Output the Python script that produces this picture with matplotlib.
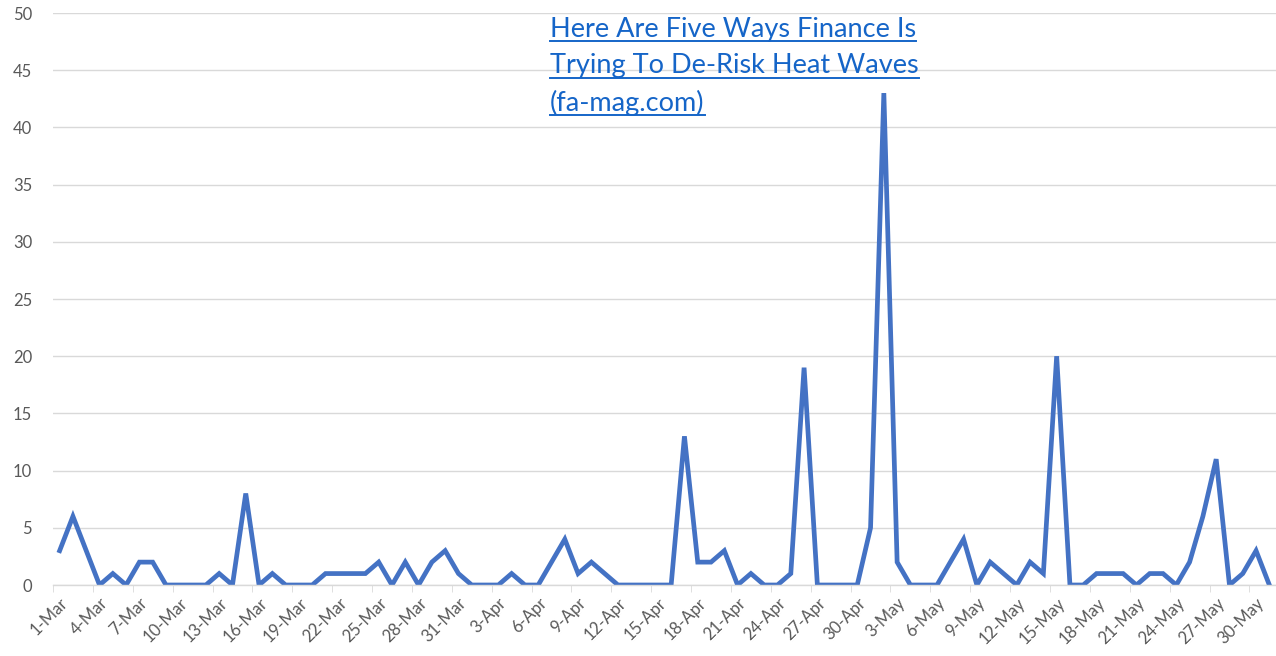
import numpy as np
import pandas as pd
import matplotlib
matplotlib.use("Agg")
import matplotlib.pyplot as plt
from matplotlib.ticker import MultipleLocator, FixedLocator

# daily counts, 1-Mar .. 31-May
dates = pd.date_range("2023-03-01", "2023-05-31", freq="D")
counts = [3, 6, 3, 0, 1, 0, 2, 2, 0, 0, 0, 0, 1, 0, 8, 0, 1, 0, 0, 0,
          1, 1, 1, 1, 2, 0, 2, 0, 2, 3, 1, 0, 0, 0, 1, 0, 0, 2, 4, 1,
          2, 1, 0, 0, 0, 0, 0, 13, 2, 2, 3, 0, 1, 0, 0, 1, 19, 0, 0, 0,
          0, 5, 43, 2, 0, 0, 0, 2, 4, 0, 2, 1, 0, 2, 1, 20, 0, 0, 1, 1,
          1, 0, 1, 1, 0, 2, 6, 11, 0, 1, 3, 0]
labels = [f"{d.day}-{d:%b}" for d in dates]
link_lines = ["Here Are Five Ways Finance Is",
              "Trying To De-Risk Heat Waves",
              "(fa-mag.com)"]

plt.rcParams['font.family'] = ['Lato', 'DejaVu Sans']
grey = "#595959"

fig = plt.figure(figsize=(12.76, 6.56), dpi=100)
ax = fig.add_axes([53 / 1276, 71 / 656, 1 - 53 / 1276, 572 / 656])

xs = np.arange(len(counts))
ax.plot(xs, counts, color="#4472C4", linewidth=3.4, solid_joinstyle="miter")

ax.set_xlim(-0.5, len(counts) - 0.5)
ax.set_ylim(0, 50)
ax.yaxis.set_major_locator(MultipleLocator(5))
ax.grid(axis="y", color="#d9d9d9", linewidth=1)
ax.set_axisbelow(True)

for s in ["top", "right", "left"]:
    ax.spines[s].set_visible(False)
ax.spines["bottom"].set_color("#d9d9d9")
ax.spines["bottom"].set_linewidth(1)

# labels every 3 days at category centers, tick marks at category boundaries
ax.xaxis.set_major_locator(FixedLocator(xs[::3]))
ax.set_xticklabels(labels[::3], rotation=45, ha="right", rotation_mode="anchor",
                   fontsize=12, color=grey)
ax.xaxis.set_minor_locator(FixedLocator(np.arange(-0.5, len(counts), 3)))
ax.tick_params(axis="x", which="major", length=0, pad=7)
ax.tick_params(axis="x", which="minor", length=5, color="#d9d9d9")
ax.tick_params(axis="y", length=0, pad=15, labelsize=12, labelcolor=grey)

# hyperlink-style text box
fig.canvas.draw()
renderer = fig.canvas.get_renderer()
x0 = 550 / 1276
for i, line in enumerate(link_lines):
    ytop = 1 - (17 + i * 36.5) / 656
    t = fig.text(x0, ytop, line, fontsize=19.5, color="#1565C8", va="top", ha="left")
    bb = t.get_window_extent(renderer=renderer)
    yline = (bb.y0 + 1) / 656
    fig.add_artist(plt.Line2D([bb.x0 / 1276, bb.x1 / 1276], [yline, yline],
                              color="#1565C8", linewidth=1.4))

fig.savefig("out.png", dpi=100)
